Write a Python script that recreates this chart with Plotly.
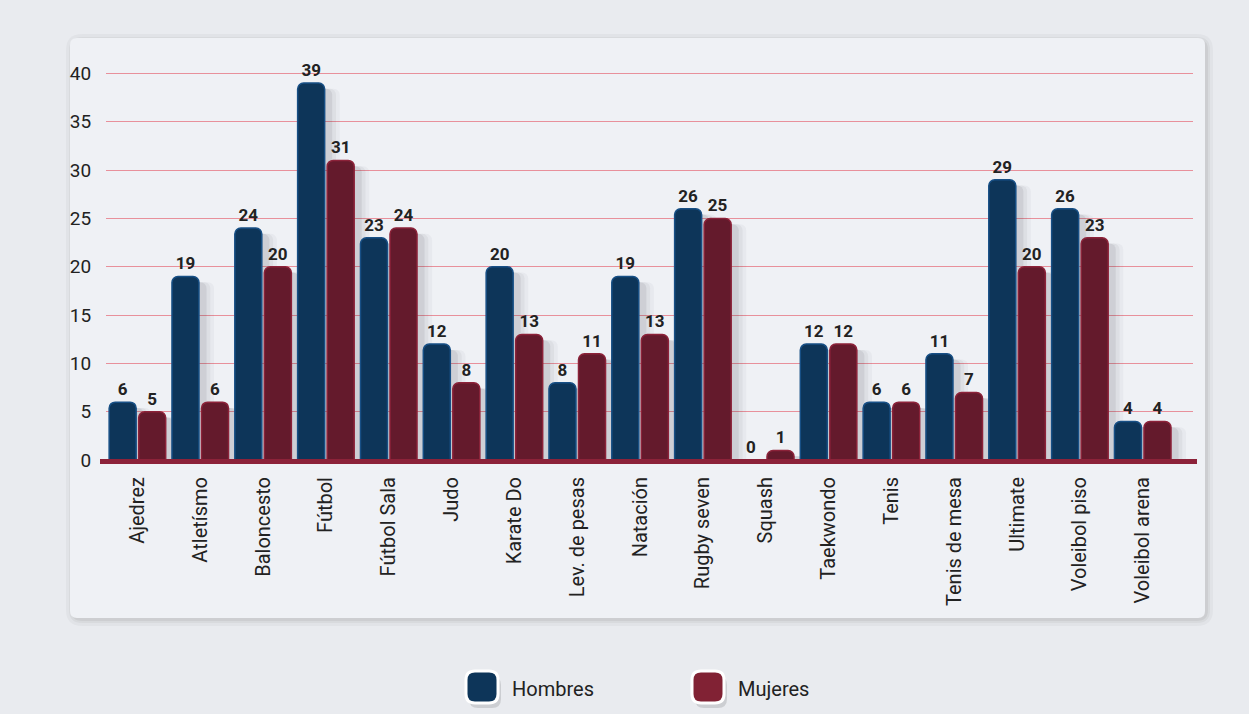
import plotly.graph_objects as go

categories = ["Ajedrez", "Atletísmo", "Baloncesto", "Fútbol", "Fútbol Sala", "Judo",
              "Karate Do", "Lev. de pesas", "Natación", "Rugby seven", "Squash",
              "Taekwondo", "Tenis", "Tenis de mesa", "Ultimate", "Voleibol piso",
              "Voleibol arena"]
hombres = [6, 19, 24, 39, 23, 12, 20, 8, 19, 26, 0, 12, 6, 11, 29, 26, 4]
mujeres = [5, 6, 20, 31, 24, 8, 13, 11, 13, 25, 1, 12, 6, 7, 20, 23, 4]
series_names = ["Hombres", "Mujeres"]
y_ticks = [0, 5, 10, 15, 20, 25, 30, 35, 40]

BLUE = "#0d3559"
BLUE_EDGE = "#174f85"
RED = "#641a2c"
RED_EDGE = "#8c2239"
FONT = "Roboto, 'Liberation Sans Narrow', 'DejaVu Sans Condensed', sans-serif"

W, H = 1249, 714
ML, MR, MT, MB = 106, 56, 54, 249

fig = go.Figure()

# soft shadows behind bars
for vals, off in [(hombres, -0.45), (mujeres, 0.02)]:
    for dx, op in [(0.24, 0.04), (0.18, 0.06), (0.12, 0.09)]:
        fig.add_trace(go.Bar(
            x=categories, y=[max(v - 0.6, 0) for v in vals], offset=off + dx, width=0.43,
            marker=dict(color=f"rgba(60,60,70,{op})", line=dict(width=0)),
            hoverinfo="skip", showlegend=False))

fig.add_trace(go.Bar(
    name=series_names[0], x=categories, y=hombres, offset=-0.45, width=0.43,
    marker=dict(color=BLUE, line=dict(color=BLUE_EDGE, width=1.5)),
    text=[str(v) for v in hombres], textposition="outside",
    textfont=dict(family=FONT, size=17, color="#222222", weight="bold"),
    cliponaxis=False, showlegend=False))
fig.add_trace(go.Bar(
    name=series_names[1], x=categories, y=mujeres, offset=0.02, width=0.43,
    marker=dict(color=RED, line=dict(color=RED_EDGE, width=1.5)),
    text=[str(v) for v in mujeres], textposition="outside",
    textfont=dict(family=FONT, size=17, color="#222222", weight="bold"),
    cliponaxis=False, showlegend=False))

pw = W - ML - MR
ph = H - MT - MB
def px_x(p):
    return (p - ML) / pw
def px_y(p):
    return 1 - (p - MT) / ph

def rounded_rect(x0, y0, x1, y1, r):
    def P(x, y):
        return f"{px_x(x):.5f},{px_y(y):.5f}"
    return (f"M {P(x0+r, y0)} L {P(x1-r, y0)} Q {P(x1, y0)} {P(x1, y0+r)} "
            f"L {P(x1, y1-r)} Q {P(x1, y1)} {P(x1-r, y1)} L {P(x0+r, y1)} "
            f"Q {P(x0, y1)} {P(x0, y1-r)} L {P(x0, y0+r)} Q {P(x0, y0)} {P(x0+r, y0)} Z")

shapes = []
# panel shadow and panel
for d, op in [(8, 0.03), (5, 0.04), (3, 0.05)]:
    shapes.append(dict(type="path", xref="paper", yref="paper", layer="below",
                       path=rounded_rect(70 - d + 4, 38 - d + 4, 1205 + d, 618 + d, 8 + d),
                       fillcolor=f"rgba(0,0,0,{op})", line=dict(width=0)))
shapes.append(dict(type="path", xref="paper", yref="paper", layer="below",
                   path=rounded_rect(70, 38, 1205, 618, 7),
                   fillcolor="#eff1f5", line=dict(width=0)))
# baseline
shapes.append(dict(type="line", xref="paper", yref="y", x0=px_x(100), x1=px_x(1197),
                   y0=-0.15, y1=-0.15, line=dict(color=RED_EDGE, width=5), layer="above"))

# legend
legend_items = [(466, BLUE, series_names[0]), (692, "#812234", series_names[1])]
annotations = []
for x0, col, name in legend_items:
    shapes.append(dict(type="path", xref="paper", yref="paper",
                       path=rounded_rect(x0 + 3, 673 + 3, x0 + 35, 705 + 3, 9),
                       fillcolor="rgba(0,0,0,0.12)", line=dict(width=0)))
    shapes.append(dict(type="path", xref="paper", yref="paper",
                       path=rounded_rect(x0, 671, x0 + 32, 703, 9),
                       fillcolor=col, line=dict(color="white", width=3)))
    annotations.append(dict(xref="paper", yref="paper", x=px_x(x0 + 44), y=px_y(689),
                            text=name, showarrow=False, xanchor="left", yanchor="middle",
                            font=dict(family=FONT, size=20, color="#222222")))

fig.update_layout(
    width=W, height=H,
    margin=dict(l=ML, r=MR, t=MT, b=MB),
    paper_bgcolor="#e9ebef",
    plot_bgcolor="rgba(0,0,0,0)",
    barmode="overlay",
    barcornerradius=6,
    showlegend=False,
    shapes=shapes,
    annotations=annotations,
    xaxis=dict(range=[-0.5, 16.8], tickangle=-90, showgrid=False, zeroline=False,
               showline=False, ticks="outside", ticklen=3, tickcolor="rgba(0,0,0,0)",
               tickfont=dict(family=FONT, size=20, color="#222222")),
    yaxis=dict(range=[-0.5, 42], tickvals=y_ticks, showgrid=True, gridcolor="#e8909b",
               gridwidth=1, zeroline=False, showline=False, ticks="outside", ticklen=10,
               tickcolor="rgba(0,0,0,0)",
               tickfont=dict(family=FONT, size=19, color="#222222")),
)

fig.write_html("out.html", config={"displayModeBar": False},
               post_script="document.body.style.margin='0';document.body.style.overflow='hidden';")
